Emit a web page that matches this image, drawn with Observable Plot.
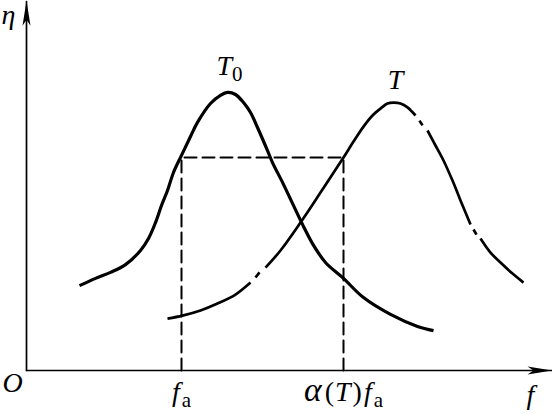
<!DOCTYPE html>
<html><head><meta charset="utf-8">
<script src="https://cdn.jsdelivr.net/npm/d3@7"></script>
<script src="https://cdn.jsdelivr.net/npm/@observablehq/plot@0.6"></script>
<style>html,body{margin:0;padding:0;background:#fff;} svg{display:block;}</style>
</head><body><div id="chart"></div>
<script>
// Curve T0 (solid)
const T0_f   = [10.6, 13.8, 16.8, 19.8, 22.8, 24.4, 25.8, 27.0, 28.2, 29.4, 31.0, 32.8, 34.2, 36.8, 38.8, 40.2, 41.8, 43.4, 44.8, 46.2, 48.2, 49.2, 51.2, 53.2, 55.2, 57.2, 59.8, 63.4, 67.4, 72.8, 78.2, 81.4];
const T0_eta = [28.3, 30.7, 32.7, 35.3, 40.0, 44.0, 49.3, 55.0, 60.0, 66.0, 71.7, 78.0, 82.7, 89.0, 91.7, 92.7, 92.0, 89.3, 86.0, 81.0, 73.3, 69.3, 62.7, 55.7, 48.7, 42.3, 36.0, 30.7, 24.3, 18.7, 14.7, 13.3];
// Curve T (dash-dot: solid pieces and dots)
const T_f     = [28.2, 31.2, 34.8, 38.2, 41.8, 44.8,  45.8, 46.6,  47.8, 50.8, 54.8, 58.8, 63.4, 65.4, 67.4, 69.2, 70.8, 72.2, 73.4, 74.8, 76.2, 77.8,  78.6, 79.2,  80.2, 81.8, 83.4, 85.2, 86.8, 88.8,  89.4, 90.0,  90.8, 92.8, 94.8, 97.2, 99.4];
const T_eta   = [17.3, 18.3, 20.0, 22.3, 25.3, 29.3,  31.0, 32.7,  34.3, 40.0, 49.3, 59.3, 71.0, 76.3, 81.3, 85.0, 87.3, 89.0, 89.3, 89.0, 87.7, 85.0,  83.3, 81.7,  80.0, 75.0, 70.0, 63.3, 56.7, 48.7,  47.0, 45.3,  44.0, 39.3, 36.0, 32.3, 29.3];
const T_piece = [0,0,0,0,0,0, 1,1, 2,2,2,2,2,2,2,2,2,2,2,2,2,2, 3,3, 4,4,4,4,4,4, 5,5, 6,6,6,6,6];
// Reference levels
const fa = 31.0, alphaFa = 63.4, etaLevel = 71.0;
const tickValues = [fa, alphaFa];
const tickLabels = ["fa", "α(T)fa"];
const seriesNames = ["T0", "T"];
const axisNames = ["η", "f", "O"];
const xMax = 105, yMax = 123.33;

const t0Data = T0_f.map((f, i) => ({f, eta: T0_eta[i]}));
const tData = T_f.map((f, i) => ({f, eta: T_eta[i], piece: T_piece[i]}));
const guide = [{f: fa, eta: 0}, {f: fa, eta: etaLevel}, {f: alphaFa, eta: etaLevel}, {f: alphaFa, eta: 0}];
const axesData = [{f: 0, eta: 0, k: "x"}, {f: xMax, eta: 0, k: "x"}, {f: 0, eta: 0, k: "y"}, {f: 0, eta: yMax - 0.4, k: "y"}];
const i0 = d3.maxIndex(T0_eta), i1 = d3.maxIndex(T_eta);

const font = {fontFamily: "'Liberation Serif', 'Times New Roman', serif", fontSize: 28, fill: "black", lineAnchor: "middle", textAnchor: "middle"};

const chart = Plot.plot({
  width: 552, height: 414,
  marginLeft: 26, marginRight: 1, marginTop: 0, marginBottom: 44,
  x: {domain: [0, xMax], axis: null},
  y: {domain: [0, yMax], axis: null},
  style: {background: "white", overflow: "visible"},
  marks: [
    Plot.line(axesData, {x: "f", y: "eta", z: "k", stroke: "black", strokeWidth: 1.7}),
    Plot.line(guide, {x: "f", y: "eta", stroke: "black", strokeWidth: 2, strokeDasharray: "12,6"}),
    Plot.line(t0Data, {x: "f", y: "eta", stroke: "black", strokeWidth: 3.2, curve: "catmull-rom", strokeLinecap: "butt"}),
    Plot.line(tData, {x: "f", y: "eta", z: "piece", stroke: "black", strokeWidth: 2.7, curve: "catmull-rom", strokeLinecap: "butt"}),
    Plot.text([0], {...font, x: () => T0_f[i0], y: () => T0_eta[i0], text: () => seriesNames[0], dx: 2, dy: -26}),
    Plot.text([0], {...font, x: () => T_f[i1], y: () => T_eta[i1], text: () => seriesNames[1], dx: 2, dy: -23}),
    Plot.text(tickValues, {...font, x: d => d, y: () => 0, text: (d, i) => tickLabels[i], dy: 22}),
    Plot.text([axisNames[0]], {...font, frameAnchor: "top-left", dx: -18, dy: 15}),
    Plot.text([axisNames[1]], {...font, frameAnchor: "bottom-right", dx: -21, dy: 25}),
    Plot.text([axisNames[2]], {...font, frameAnchor: "bottom-left", dx: -14, dy: 13})
  ]
});

// arrowhead marker for axes
const ns = "http://www.w3.org/2000/svg";
const defs = document.createElementNS(ns, "defs");
const marker = document.createElementNS(ns, "marker");
marker.setAttribute("id", "ah");
marker.setAttribute("viewBox", "-26 -5 28 10");
marker.setAttribute("refX", "0");
marker.setAttribute("refY", "0");
marker.setAttribute("markerWidth", "28");
marker.setAttribute("markerHeight", "10");
marker.setAttribute("markerUnits", "userSpaceOnUse");
marker.setAttribute("orient", "auto");
const mp = document.createElementNS(ns, "path");
mp.setAttribute("d", "M1,0 L-24,-4 L-18,0 L-24,4 Z");
mp.setAttribute("fill", "black");
marker.appendChild(mp);
defs.appendChild(marker);
chart.insertBefore(defs, chart.firstChild);
chart.querySelectorAll('g[stroke-width="1.7"] path').forEach(p => p.setAttribute("marker-end", "url(#ah)"));

// rich text (italic letters, upright subscripts)
const rich = {
  "η": [["η", "i"]],
  "O": [["O", "i"]],
  "f": [["f", "i"]],
  "T": [["T", "i"]],
  "T0": [["T", "i"], ["0", "s"]],
  "fa": [["f", "i"], ["a", "s", 2]],
  "α(T)fa": [["α", "i", 0, 1.2], ["(", "n", 3], ["T", "i", 1], [")", "n", 2], ["f", "i", 2], ["a", "s", 2]]
};
chart.querySelectorAll("text").forEach(t => {
  const key = t.textContent;
  if (!(key in rich)) return;
  t.textContent = "";
  rich[key].forEach(([s, kind, dx, scale]) => {
    const ts = document.createElementNS(ns, "tspan");
    ts.textContent = s;
    if (kind === "i") ts.setAttribute("font-style", "italic");
    if (kind === "s") { ts.setAttribute("font-size", "0.75em"); ts.setAttribute("dy", "0.25em"); }
    if (dx) ts.setAttribute("dx", dx);
    if (scale) ts.setAttribute("font-size", scale + "em");
    t.appendChild(ts);
  });
});

document.getElementById("chart").appendChild(chart);
</script>
</body></html>
